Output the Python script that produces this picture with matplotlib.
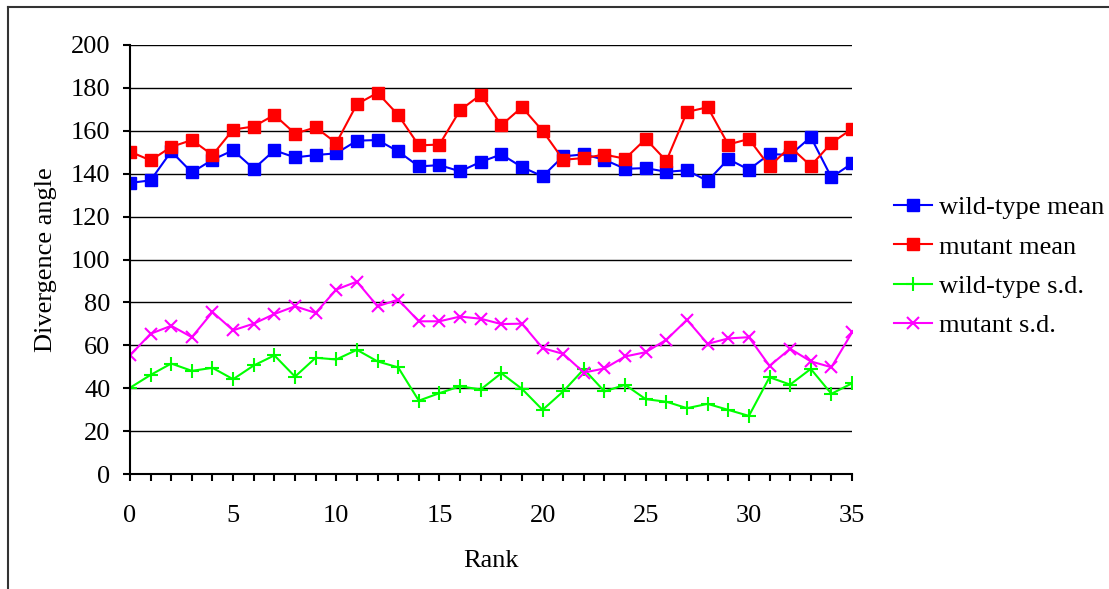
import matplotlib
matplotlib.use('Agg')
import matplotlib.pyplot as plt
from matplotlib.lines import Line2D
import numpy as np

plt.rcParams['font.family'] = ['Liberation Serif', 'DejaVu Serif']

rank = list(range(36))

wt_mean = [135.7, 136.9, 150.4, 140.6, 146.5, 150.9, 142.3, 150.9, 147.6, 148.7,
           149.5, 155.4, 155.7, 150.4, 143.4, 144.0, 141.1, 145.5, 149.0, 143.1,
           138.8, 148.1, 149.0, 146.5, 142.3, 142.6, 140.9, 141.6, 136.6, 146.8,
           141.9, 149.2, 148.7, 157.1, 138.3, 144.8]
mut_mean = [150.3, 146.2, 152.5, 155.7, 148.7, 160.6, 162.0, 167.4, 158.7, 161.6,
            154.3, 172.4, 177.7, 167.4, 153.2, 153.6, 169.6, 176.8, 162.6, 171.0,
            160.0, 146.5, 147.3, 148.9, 147.0, 156.2, 146.0, 168.8, 171.0, 153.6,
            156.2, 143.4, 152.5, 143.7, 154.3, 160.9]
wt_sd = [40.2, 46.2, 51.5, 48.1, 49.5, 44.2, 50.6, 55.3, 45.4, 54.2,
         53.4, 57.9, 52.5, 49.7, 34.2, 37.7, 40.9, 39.4, 47.0, 39.7,
         29.9, 38.5, 48.9, 38.5, 41.6, 34.9, 33.7, 30.7, 32.7, 29.9,
         27.1, 45.1, 41.7, 49.0, 37.4, 42.3]
mut_sd = [55.3, 65.4, 69.1, 63.8, 75.5, 67.0, 70.1, 74.6, 78.2, 75.1,
          86.0, 89.7, 78.2, 81.3, 71.2, 71.2, 73.4, 72.4, 69.9, 70.1,
          58.7, 56.0, 47.3, 49.2, 54.8, 56.8, 62.6, 71.9, 60.7, 63.2,
          63.8, 50.4, 58.4, 52.5, 49.8, 66.0]

fig = plt.figure(figsize=(11.09, 5.89), dpi=100)
ax = fig.add_axes([0.1172, 0.1952, 0.6511, 0.7284])

fs = 19
lwd = 1.5
ax.plot(rank, wt_mean, color='#0000FF', marker='s', ms=9, lw=lwd, label='wild-type mean')
ax.plot(rank, mut_mean, color='#FF0000', marker='s', ms=9, lw=lwd, label='mutant mean')
ax.plot(rank, wt_sd, color='#00FF00', marker='+', ms=10, mew=1.5, lw=lwd, label='wild-type s.d.')
ax.plot(rank, mut_sd, color='#FF00FF', marker='x', ms=9, mew=1.5, lw=lwd, label='mutant s.d.')

ax.set_xlim(0, 35)
ax.set_ylim(0, 200)
ax.set_yticks(np.arange(0, 201, 20))
ax.set_xticks(np.arange(0, 36, 5))
ax.set_xticks(np.arange(0, 36, 1), minor=True)
ax.yaxis.grid(True, color='black', lw=1)
ax.set_axisbelow(True)
for s in ['top', 'right']:
    ax.spines[s].set_visible(False)
for s in ['left', 'bottom']:
    ax.spines[s].set_linewidth(1.5)
ax.tick_params(axis='both', which='both', direction='out', labelsize=fs, width=1.5)
ax.tick_params(axis='x', which='minor', length=5)
ax.tick_params(axis='x', which='major', length=5, pad=17)
ax.tick_params(axis='y', length=5, pad=9)

ax.set_xlabel('Rank', fontsize=fs, labelpad=17)
ax.set_ylabel('Divergence angle', fontsize=fs, labelpad=10)

ax.legend(loc='upper left', bbox_to_anchor=(1.043, 0.673), frameon=False,
          fontsize=19, handlelength=1.45, labelspacing=0.6, handletextpad=0.28,
          borderaxespad=0)

# outer chart frame
fig.add_artist(Line2D([0.0072, 1.0], [0.9875, 0.9875], color='#333333', lw=1.5))
fig.add_artist(Line2D([0.0072, 0.0072], [0.0, 0.9875], color='#333333', lw=1.5))

plt.savefig('out.png', dpi=100)
plt.close(fig)
